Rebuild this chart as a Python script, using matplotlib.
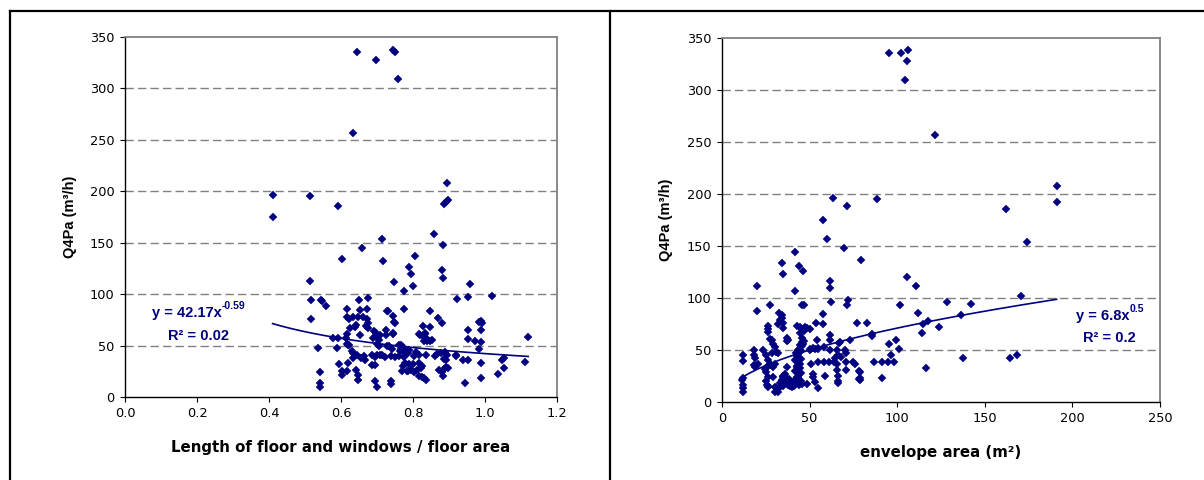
import matplotlib
matplotlib.use("Agg")
import matplotlib.pyplot as plt
import numpy as np
from matplotlib.lines import Line2D

plt.rcParams['font.family'] = ['DejaVu Sans']
ARIAL = ['Liberation Sans', 'DejaVu Sans']

# ---------------- data: left panel ----------------
left_x = [0.644, 0.697, 0.745, 0.749, 0.758, 0.632,
          0.411, 0.411, 0.515, 0.592,
          0.894, 0.886, 0.891, 0.897,
          0.859, 0.883, 0.713, 0.657, 0.602, 0.718, 0.806,
          0.790, 0.794, 0.801, 0.880, 0.883, 0.748, 0.776,
          0.515, 0.518, 0.544, 0.547, 0.557, 0.518,
          0.957, 0.954, 0.922, 1.019,
          1.119, 1.110, 1.048, 1.052, 1.052, 1.036, 0.944, 0.989, 0.988, 0.953, 0.919,
          0.984, 0.989, 0.992, 0.989, 0.954, 0.954, 0.971, 0.988, 0.984,
          0.869, 0.880, 0.846, 0.776, 0.730, 0.745, 0.748,
          0.829, 0.846, 0.819, 0.834, 0.831, 0.745, 0.724, 0.724,
          0.674, 0.673, 0.651, 0.653, 0.616, 0.618, 0.622,
          0.634, 0.648, 0.662, 0.671, 0.676, 0.675, 0.669, 0.639, 0.625, 0.618, 0.614, 0.653,
          0.692, 0.697, 0.703, 0.700, 0.708, 0.690, 0.705,
          0.579, 0.593, 0.590, 0.535, 0.616, 0.623, 0.700, 0.705, 0.729, 0.733, 0.760, 0.767, 0.773, 0.743, 0.777,
          0.543, 0.543, 0.543, 0.594, 0.604, 0.602, 0.617, 0.619, 0.620,
          0.630, 0.634, 0.640, 0.634, 0.644, 0.642, 0.646, 0.646, 0.641,
          0.663, 0.656, 0.667, 0.687, 0.694, 0.699, 0.708, 0.714, 0.722, 0.687, 0.694, 0.694, 0.700,
          0.728, 0.750, 0.745, 0.740, 0.750, 0.762, 0.768, 0.773, 0.764,
          0.739, 0.739, 0.775, 0.777, 0.772, 0.770, 0.782,
          0.817, 0.833, 0.837, 0.840, 0.831, 0.847, 0.854,
          0.790, 0.786, 0.808, 0.803, 0.817, 0.836,
          0.862, 0.868, 0.877, 0.889, 0.895, 0.887, 0.893, 0.919, 0.939,
          0.790, 0.799, 0.785, 0.794, 0.803, 0.812, 0.817, 0.826, 0.831, 0.835,
          0.873, 0.880, 0.887, 0.893, 0.897, 0.884,
          0.817, 0.826, 0.822]
left_y = [335, 328, 337, 335, 309, 257,
          196, 175, 195, 186,
          208, 188, 190, 192,
          158, 148, 154, 145, 134, 132, 137,
          126, 120, 108, 123, 116, 112, 103,
          113, 94, 94, 93, 88, 76,
          110, 97, 95, 98,
          58, 34, 36, 38, 28, 22, 14, 18, 33, 36, 40,
          73, 74, 72, 65, 65, 56, 54, 53, 47,
          77, 72, 84, 86, 84, 79, 73,
          69, 68, 60, 61, 58, 61, 65, 60,
          96, 86, 94, 85, 86, 78, 76,
          78, 78, 78, 76, 72, 67, 69, 68, 67, 61, 57, 60,
          64, 62, 58, 60, 60, 57, 55,
          57, 57, 48, 48, 52, 51, 52, 50, 50, 50, 51, 51, 49, 47, 45,
          24, 14, 10, 32, 25, 21, 25, 33, 51,
          45, 43, 41, 38, 41, 26, 21, 17, 70,
          40, 38, 36, 41, 39, 41, 41, 41, 39, 31, 31, 16, 10,
          84, 72, 62, 40, 39, 40, 47, 45, 45,
          16, 13, 39, 33, 30, 25, 25,
          61, 62, 57, 54, 54, 54, 55,
          46, 43, 44, 40, 41, 41,
          40, 42, 43, 44, 41, 37, 36, 41, 36,
          32, 32, 25, 26, 24, 26, 20, 19, 18, 17,
          26, 24, 27, 29, 28, 20,
          33, 30, 28]

# ---------------- data: right panel ----------------
right_x = [95.5, 102.2, 106.2, 105.6, 104.3, 121.6,
           191.2, 191.2, 161.9, 174.1, 170.7, 164.2, 168.6,
           137.6, 142.1, 136.6, 128.2, 124.1, 117.8, 114.9, 114.2, 116.6,
           111.9, 110.9, 105.4, 101.6, 100.8, 99.5, 95.3, 96.7,
           91.5, 94.7, 98.3, 91.5, 87.0, 88.3, 85.6, 85.6,
           79.5, 82.8, 77.1, 73.1, 74.9, 78.4, 78.4,
           71.2, 69.4, 72.1, 71.2, 63.4, 57.8, 60.1, 61.8, 61.8, 62.4,
           57.8, 57.8, 53.5, 54.4, 61.8, 61.8, 66.6, 61.8,
           67.4, 70.0, 70.5, 68.0, 71.0, 71.0, 76.0, 78.8, 78.8, 78.8,
           65.5, 66.0, 65.5, 65.5, 66.0, 66.0, 64.5,
           51.0, 55.0, 58.0, 61.0, 64.0, 52.0, 52.0, 53.0, 55.0, 59.0, 66.0,
           50.0, 52.0, 55.0, 58.0, 50.2,
           45.5, 46.4, 43.9, 41.5, 41.9, 34.4, 35.0, 19.8, 20.2, 27.4, 46.8,
           32.5, 34.0, 34.5, 33.0, 32.0, 35.0, 35.0,
           26.5, 26.0, 26.5, 27.4, 28.3, 29.3, 30.2, 31.0, 28.3, 32.0,
           36.9, 37.9, 36.9,
           42.6, 44.5, 45.5, 47.0, 44.5, 45.5, 47.0, 46.0,
           44.0, 43.0, 42.5, 43.0, 44.0, 43.5, 45.0, 44.0, 41.0, 42.0,
           11.8, 11.8, 11.8, 11.8, 11.8, 11.8, 11.2,
           18.4, 18.4, 18.8, 20.7, 19.0, 18.0,
           24.5, 26.5, 28.0, 30.0, 26.0, 25.0, 30.0, 31.0, 26.0,
           35.0, 36.0, 37.0, 36.0, 35.0, 33.0,
           38.0, 39.0, 40.0, 41.0, 42.6, 41.7, 42.6, 41.7, 42.6, 43.6, 44.5, 45.5,
           48.7, 47.4, 48.3, 45.5, 50.2, 53.1, 55.0,
           23.6, 25.0, 26.4, 27.4, 25.5, 29.3, 24.9, 25.5, 26.4, 29.3, 30.2, 32.2, 33.1, 34.1, 35.0,
           36.9, 37.9, 39.8, 40.7, 41.7, 44.5, 45.1, 44.5, 45.5, 45.1, 44.5, 45.1, 44.5]
right_y = [336, 336, 338, 328, 310, 257,
           208, 192, 186, 154, 102, 42, 45,
           42, 94, 84, 96, 72, 78, 75, 66, 33,
           86, 112, 120, 93, 51, 60, 56, 45,
           38, 38, 38, 23, 38, 195, 65, 63,
           137, 76, 76, 60, 38, 30, 22,
           188, 148, 98, 93, 196, 175, 157, 116, 110, 96.5,
           85, 75, 76, 60, 64, 60, 57, 50,
           58, 50, 47, 43, 38, 31, 37, 29, 23, 21,
           50, 45, 37, 31, 25, 18, 42,
           37, 38, 38, 38, 38, 27, 24, 19, 13, 25, 20,
           51, 52, 52, 53, 70,
           93, 126, 131, 144, 107, 134, 123, 112, 87.5, 93, 93,
           86, 84, 81, 79, 75, 71, 76,
           73, 70, 67, 61, 60, 56, 53, 48, 47, 47,
           62, 60, 59,
           73, 72, 70, 68, 66, 62, 59, 56,
           48, 44, 39, 34, 29, 24, 20, 16, 15, 47,
           45, 39, 23, 16, 13, 10, 21,
           45, 50, 34, 37, 42, 36,
           32, 35, 36, 37, 24, 20, 14, 13, 15,
           25, 27, 22, 18, 15, 14,
           22, 15, 18, 20, 24, 30, 35, 40, 45, 50, 55, 58,
           71, 72, 17, 17, 50, 51, 51,
           50, 45, 40, 37, 34, 34, 29, 16, 14, 24, 10, 10, 18, 21, 24,
           34, 16, 14, 18, 21, 37, 41, 50, 54, 49, 33, 28, 18]

# power trendlines y = a * x^b
left_fit = (42.17, -0.59)
left_fit_range = (0.41, 1.12)
right_fit = (6.85, 0.508)
right_fit_range = (12.0, 191.0)

left_xticks = [0.0, 0.2, 0.4, 0.6, 0.8, 1.0, 1.2]
right_xticks = [0, 50, 100, 150, 200, 250]
yticks = [0, 50, 100, 150, 200, 250, 300, 350]

NAVY = '#000080'
GRID = '#808080'

W, H = 1204, 480
fig = plt.figure(figsize=(W / 100, H / 100), dpi=100)

def px_rect(l, t, r, b):
    return [l / W, 1 - b / H, (r - l) / W, (b - t) / H]

axL = fig.add_axes(px_rect(125, 37, 557, 397))
axR = fig.add_axes(px_rect(722, 38, 1160, 402))

def style(ax, xticks, fmt, xlabel, ylabelpad):
    ax.set_ylim(0, 350)
    ax.set_yticks(yticks)
    ax.set_xlim(xticks[0], xticks[-1])
    ax.set_xticks(xticks)
    ax.set_xticklabels([fmt(v) for v in xticks])
    for v in yticks[1:-1]:
        ax.axhline(v, color=GRID, lw=1.0, ls=(0, (6, 3)), zorder=0)
    ax.spines['left'].set_color('black')
    ax.spines['bottom'].set_color('black')
    ax.spines['left'].set_linewidth(1.0)
    ax.spines['bottom'].set_linewidth(1.0)
    ax.spines['top'].set_color(GRID)
    ax.spines['right'].set_color(GRID)
    ax.spines['top'].set_linewidth(1.3)
    ax.spines['right'].set_linewidth(1.3)
    ax.tick_params(direction='out', length=3.5, width=0.8, labelsize=9.3,
                   colors='black', pad=4)
    ax.set_ylabel('Q4Pa (m\u00b3/h)', fontsize=10.5, fontweight='bold',
                  labelpad=ylabelpad, family=ARIAL)
    ax.set_xlabel(xlabel, fontsize=10.8, fontweight='bold', labelpad=14)

style(axL, left_xticks, lambda v: f"{v:.1f}", 'Length of floor and windows / floor area', 9)
style(axR, right_xticks, lambda v: f"{v:d}", 'envelope area (m\u00b2)', 10)

axL.plot(left_x, left_y, ls='none', marker='D', ms=4.2, mfc=NAVY, mec=NAVY, mew=0.3, zorder=3)
axR.plot(right_x, right_y, ls='none', marker='D', ms=4.2, mfc=NAVY, mec=NAVY, mew=0.3, zorder=3)

xs = np.linspace(left_fit_range[0], left_fit_range[1], 200)
axL.plot(xs, left_fit[0] * xs ** left_fit[1], color=NAVY, lw=1.2, zorder=4)
xs = np.linspace(right_fit_range[0], right_fit_range[1], 200)
axR.plot(xs, right_fit[0] * xs ** right_fit[1], color=NAVY, lw=1.2, zorder=4)

def equation(ax, x, y, main, sup):
    t = ax.text(x, y, main, color=NAVY, fontsize=10.5, fontweight='bold',
                ha='left', va='center', family=ARIAL, zorder=5)
    ax.annotate(sup, xy=(1.0, 0.62), xycoords=t, ha='left', va='bottom',
                color=NAVY, fontsize=7.5, fontweight='bold', family=ARIAL, zorder=5)
    return t

equation(axL, 0.075, 81.7, 'y = 42.17x', '-0.59')
axL.text(0.119, 59.3, 'R\u00b2 = 0.02', color=NAVY, fontsize=10.5, fontweight='bold',
         ha='left', va='center', family=ARIAL, zorder=5)
equation(axR, 202, 82.7, 'y = 6.8x', '0.5')
axR.text(206, 61.5, 'R\u00b2 = 0.2', color=NAVY, fontsize=10.5, fontweight='bold',
         ha='left', va='center', family=ARIAL, zorder=5)

# outer frame lines (pixel coords)
def hline(y, x0, x1):
    fig.add_artist(Line2D([x0 / W, x1 / W], [1 - y / H, 1 - y / H], color='black', lw=1.6))

def vline(x, y0, y1):
    fig.add_artist(Line2D([x / W, x / W], [1 - y0 / H, 1 - y1 / H], color='black', lw=1.6))

hline(11, 10, W)
vline(10, 11, H)
vline(610, 11, H)

fig.savefig('out.png', dpi=100)
